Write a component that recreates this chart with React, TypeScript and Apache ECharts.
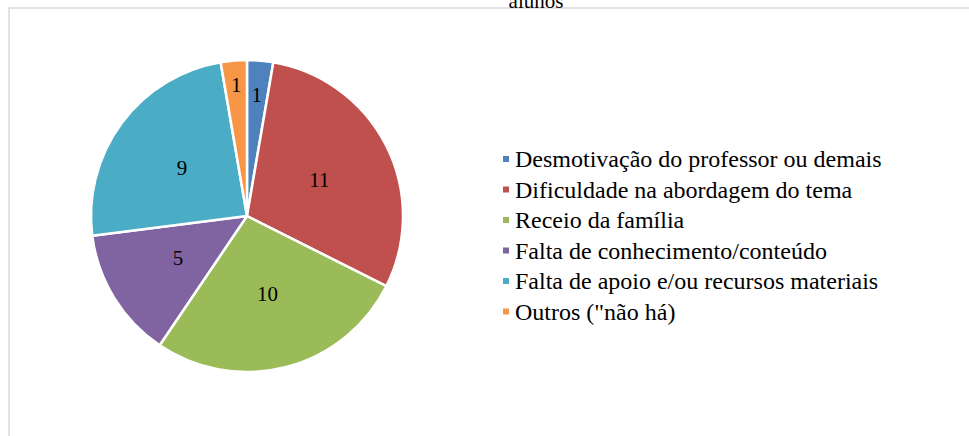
import React, { useEffect, useRef } from "react";
import * as echarts from "echarts";

const categories = [
  "Desmotivação do professor ou demais",
  "Dificuldade na abordagem do tema",
  "Receio da família",
  "Falta de conhecimento/conteúdo",
  "Falta de apoio e/ou recursos materiais",
  "Outros (\"não há)",
];
const values = [1, 11, 10, 5, 9, 1];
const colors = ["#4F81BD", "#C0504D", "#9BBB59", "#8064A2", "#4BACC6", "#F79646"];
const labelOffsets: (number[] | null)[] = [[3, -40], null, null, null, null, [-4, -50]];

const FONT = "'Liberation Serif', 'Times New Roman', serif";

export default function App() {
  const ref = useRef<HTMLDivElement>(null);
  useEffect(() => {
    if (!ref.current) return;
    const chart = echarts.init(ref.current, undefined, { renderer: "svg" });
    chart.setOption({
      animation: false,
      backgroundColor: "#ffffff",
      textStyle: { fontFamily: FONT },
      title: {
        text: "alunos",
        left: 531,
        top: -15,
        textAlign: "center",
        textStyle: { fontFamily: FONT, fontSize: 21, fontWeight: "normal", color: "#000" },
      },
      graphic: [
        {
          type: "rect",
          shape: { x: 9, y: 8, width: 980, height: 450 },
          style: { fill: "none", stroke: "#d9d9d9", lineWidth: 1.5 },
          silent: true,
        },
      ],
      legend: {
        orient: "vertical",
        left: 496,
        top: 142,
        itemWidth: 8,
        itemHeight: 8,
        itemGap: 6.5,
        icon: "rect",
        data: categories,
        textStyle: {
          fontFamily: FONT,
          fontSize: 24,
          lineHeight: 24,
          color: "#000",
        },
      },
      series: [
        {
          type: "pie",
          center: [247, 216],
          radius: 156,
          startAngle: 90,
          clockwise: true,
          itemStyle: { borderColor: "#fff", borderWidth: 2.5 },
          label: {
            show: true,
            position: "inside",
            formatter: "{c}",
            fontFamily: FONT,
            fontSize: 21,
            color: "#000",
          },
          labelLine: { show: false },
          emphasis: { disabled: true },
          data: values.map((v, i) => {
            const d: any = { name: categories[i], value: v, itemStyle: { color: colors[i] } };
            if (labelOffsets[i]) d.label = { offset: labelOffsets[i] };
            return d;
          }),
        },
      ],
    });
    return () => chart.dispose();
  }, []);
  return (
    <div
      ref={ref}
      style={{ position: "fixed", left: 0, top: 0, width: 969, height: 436 }}
    />
  );
}
